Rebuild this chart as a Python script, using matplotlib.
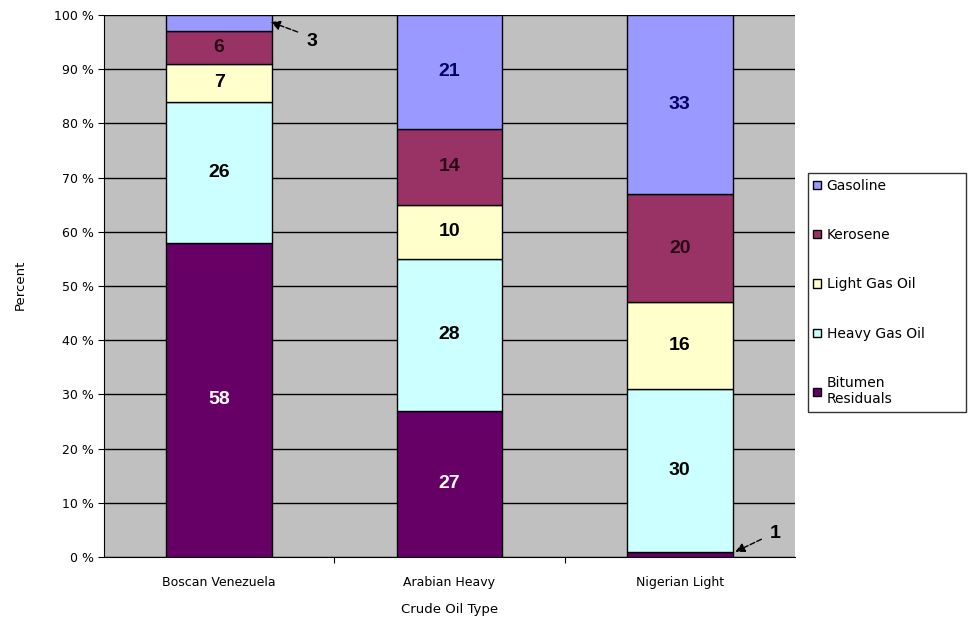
import matplotlib
matplotlib.use('Agg')
import matplotlib.pyplot as plt
from matplotlib.patches import Patch
import numpy as np

# crude oil types and fractions (percent), bottom to top
crudes = ['Boscan Venezuela', 'Arabian Heavy', 'Nigerian Light']
fractions = ['Bitumen\nResiduals', 'Heavy Gas Oil', 'Light Gas Oil', 'Kerosene', 'Gasoline']
bitumen = [58, 27, 1]
heavy_gas_oil = [26, 28, 30]
light_gas_oil = [7, 10, 16]
kerosene = [6, 14, 20]
gasoline = [3, 21, 33]
yticks = [0, 10, 20, 30, 40, 50, 60, 70, 80, 90, 100]

series = [bitumen, heavy_gas_oil, light_gas_oil, kerosene, gasoline]
colors = ['#660066', '#CCFFFF', '#FFFFCC', '#993366', '#9999FF']
txt_colors = ['white', 'black', 'black', '#2a0a14', '#000066']

fig = plt.figure(figsize=(9.71, 6.27), dpi=100)
ax = fig.add_axes([0.1071, 0.1116, 0.7116, 0.8644])
ax.set_facecolor('#C0C0C0')

x = np.arange(len(crudes))
w = 0.46
bottom = np.zeros(len(crudes))
for vals, col, tc in zip(series, colors, txt_colors):
    vals = np.array(vals, dtype=float)
    ax.bar(x, vals, w, bottom=bottom, color=col, edgecolor='black', linewidth=1, zorder=3)
    for xi, b, v in zip(x, bottom, vals):
        if v >= 5:
            ax.text(xi, b + v / 2, '%d' % v, ha='center', va='center', fontsize=14,
                    fontweight='bold', color=tc, family='Liberation Sans', zorder=4)
    bottom += vals

ax.set_xlim(-0.5, 2.5)
ax.set_ylim(0, 100)
ax.set_yticks(yticks)
ax.set_yticklabels(['%d %%' % t for t in yticks], fontsize=9)
ax.set_xticks([0.5, 1.5])
ax.set_xticklabels([])
ax.tick_params(axis='x', length=4, color='black')
ax.tick_params(axis='y', length=4, color='black', pad=3)
for xi, name in zip(x, crudes):
    ax.text(xi, -3.5, name, ha='center', va='top', fontsize=9)
ax.text(1, -8.5, 'Crude Oil Type', ha='center', va='top', fontsize=9.5)
fig.text(0.021, 0.545, 'Percent', rotation=90, ha='center', va='center', fontsize=9.5)

ax.yaxis.grid(True, color='black', linewidth=1, zorder=1)
ax.set_axisbelow(True)
for s in ['top', 'right']:
    ax.spines[s].set_visible(False)
ax.spines['left'].set_color('black')
ax.spines['bottom'].set_color('black')

# callouts for the tiny segments
ax.annotate('', xy=(0.213, 98.9), xytext=(0.352, 96.7),
            arrowprops=dict(arrowstyle='-|>', color='black', lw=1, linestyle='--', mutation_scale=14),
            zorder=5, annotation_clip=False)
ax.text(0.404, 95.2, '3', ha='center', va='center', fontsize=14, fontweight='bold',
        family='Liberation Sans', zorder=5)
ax.annotate('', xy=(2.23, 0.74), xytext=(2.365, 3.5),
            arrowprops=dict(arrowstyle='-|>', color='black', lw=1, linestyle='--', mutation_scale=14),
            zorder=5, annotation_clip=False)
ax.text(2.413, 4.43, '1', ha='center', va='center', fontsize=14, fontweight='bold',
        family='Liberation Sans', zorder=5)

handles = [Patch(facecolor=c, edgecolor='black', linewidth=1) for c in colors][::-1]
labels = fractions[::-1]
leg = fig.legend(handles, labels, loc='upper left', bbox_to_anchor=(0.832, 0.354, 0.163, 0.37),
                 mode='expand', fontsize=10, frameon=True, fancybox=False, edgecolor='black',
                 labelspacing=2.55, handlelength=0.55, handleheight=0.55, handletextpad=0.4,
                 borderpad=0.4, borderaxespad=0)
leg.get_frame().set_linewidth(1)

fig.savefig('out.png', dpi=100)
